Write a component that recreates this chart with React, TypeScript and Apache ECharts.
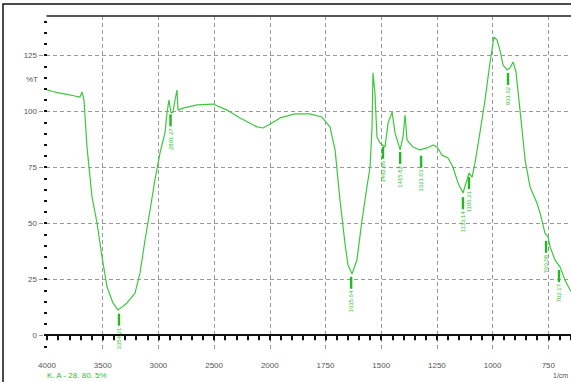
import React, { useEffect, useRef } from 'react';
import * as echarts from 'echarts';

// Spectrum (wavenumber in 1/cm, transmittance in %T)
const WAVENUMBERS = [
  4000, 3950, 3883, 3820, 3749, 3704, 3686, 3668, 3641, 3596, 3551, 3506, 3461, 3408, 3363,
  3282, 3210, 3165, 3120, 3075, 3031, 2986, 2941, 2923, 2905, 2887, 2869, 2851, 2833, 2824,
  2779, 2653, 2510, 2384, 2267, 2115, 2061, 1990, 1954, 1887, 1820, 1766, 1730, 1707, 1685,
  1662, 1649, 1631, 1609, 1586, 1564, 1550, 1541, 1537, 1528, 1519, 1505, 1483, 1469, 1451,
  1438, 1415, 1402, 1393, 1384, 1357, 1326, 1294, 1267, 1249, 1227, 1200, 1178, 1155, 1133,
  1115, 1106, 1092, 1079, 1057, 1034, 1012, 994, 980, 967, 953, 935, 922, 908, 895,
  877, 854, 832, 801, 787, 765, 751, 742, 720, 697, 675, 652, 640,
];
const TRANSMITTANCE = [
  109.5, 108.8, 108.1, 107.5, 106.8, 106.3, 108.6, 105, 84, 61.7, 50.1, 34.9, 21.5, 14.4, 11.2,
  14.4, 18.8, 27.8, 42.5, 55.9, 69.3, 81.3, 90.3, 99.2, 105, 99.2, 99.6, 105, 109.5, 100.5,
  101.4, 102.8, 103.2, 100.5, 97, 93, 92.5, 94.7, 97, 98.8, 98.8, 97.4, 93, 82.7, 60.4,
  40.5, 31.3, 27.3, 33.6, 51.4, 66.2, 75.1, 93, 117, 108.1, 88.5, 85.8, 84, 94.7, 99.6,
  90.3, 82.7, 88.5, 98.3, 87.1, 84, 82.7, 83.6, 84.9, 84, 80.4, 79.1, 75.1, 67.9, 63.5,
  69.3, 72.4, 70.6, 76.9, 90.3, 105, 121.5, 133.1, 131.8, 127.3, 120.6, 118.4, 119.3, 122, 117.5,
  100.5, 78.2, 66.2, 59, 54.6, 45.6, 43.8, 39.4, 33.6, 30.4, 24.6, 20.1, 19,
];

// Peak annotations
const PEAK_WAVENUMBERS = [3354, 2891, 1635, 1492, 1415, 1321, 1133, 1106, 931, 760, 702];
const PEAK_TRANSMITTANCE = [10.5, 99.5, 27, 85, 82.7, 81, 62.5, 71.5, 118, 43, 30];
const PEAK_LABELS = [
  '3354.21', '2891.27', '1635.64', '1492.95', '1415.82', '1321.03',
  '1133.14', '1106.21', '931.62', '760.08', '702.17',
];

// Axis ticks
const X_TICK_LABELS = ['4000', '3500', '3000', '2500', '2000', '1750', '1500', '1250', '1000', '750'];
const Y_TICKS = [0, 25, 50, 75, 100, 125];

const GREEN = '#3cc83c';

// Piecewise wavenumber scale (2x expansion below 2000 1/cm)
function toU(w: number): number {
  return w >= 2000 ? (4000 - w) / 500 : 4 + (2000 - w) / 250;
}

export default function App() {
  const ref = useRef<HTMLDivElement>(null);

  useEffect(() => {
    if (!ref.current) return;
    const chart = echarts.init(ref.current, undefined, { renderer: 'svg' });
    const font = 'Liberation Sans';

    const option: any = {
      animation: false,
      backgroundColor: '#ffffff',
      grid: [
        { left: 47, width: 557, top: 16, height: 336, outerBoundsMode: 'none', containLabel: false },
        { left: 39, right: 0, top: 55.2, bottom: 46.8, outerBoundsMode: 'none', containLabel: false },
        { left: 47, right: 0, top: 21.6, bottom: 35.6, outerBoundsMode: 'none', containLabel: false },
      ],
      xAxis: [
        {
          gridIndex: 0,
          type: 'value',
          min: 0,
          max: 10,
          interval: 1,
          position: 'bottom',
          axisLine: { show: true, lineStyle: { color: '#111', width: 2 } },
          axisTick: { show: true, length: 5, lineStyle: { color: '#111', width: 2 } },
          minorTick: { show: true, splitNumber: 5, length: 5, lineStyle: { color: '#111', width: 2 } },
          axisLabel: {
            margin: 9,
            fontSize: 8,
            color: '#555',
            fontFamily: font,
            formatter: (v: number) => {
              const i = Math.round(v);
              if (Math.abs(v - i) > 1e-6 || i < 0 || i >= X_TICK_LABELS.length) return '';
              return X_TICK_LABELS[i];
            },
          },
          splitLine: {
            show: true,
            showMinLine: false,
            lineStyle: { color: '#9a9a9a', width: 1, type: [4, 3] },
          },
        },
        {
          gridIndex: 0,
          type: 'value',
          min: 0,
          max: 10,
          position: 'top',
          axisLine: { show: true, lineStyle: { color: '#222', width: 1.5 } },
          axisTick: { show: false },
          axisLabel: { show: false },
          splitLine: { show: false },
        },
        { gridIndex: 1, type: 'value', min: 0, max: 1, show: false },
        { gridIndex: 2, type: 'value', min: 0, max: 1, show: false },
      ],
      yAxis: [
        { gridIndex: 0, type: 'value', min: -7.5, max: 142.5, show: false },
        {
          gridIndex: 1,
          type: 'value',
          min: Y_TICKS[0],
          max: Y_TICKS[Y_TICKS.length - 1],
          interval: 25,
          axisLine: { show: false },
          axisTick: { show: false },
          axisLabel: { margin: 2, fontSize: 8, color: '#555', fontFamily: font },
          splitLine: { show: true, lineStyle: { color: '#9a9a9a', width: 1, type: [4, 3] } },
        },
        {
          gridIndex: 2,
          type: 'value',
          min: -5,
          max: 140,
          interval: 5,
          axisLine: { show: false },
          axisTick: { show: true, length: 3, lineStyle: { color: '#111', width: 2 } },
          axisLabel: { show: false },
          splitLine: { show: false },
        },
      ],
      series: [
        {
          type: 'line',
          xAxisIndex: 0,
          yAxisIndex: 0,
          data: WAVENUMBERS.map((w, i) => [toU(w), TRANSMITTANCE[i]]),
          symbol: 'none',
          showSymbol: false,
          lineStyle: { color: GREEN, width: 1.2 },
          z: 3,
        },
        {
          type: 'custom',
          xAxisIndex: 0,
          yAxisIndex: 0,
          data: PEAK_WAVENUMBERS.map((w, i) => [toU(w), PEAK_TRANSMITTANCE[i], i]),
          renderItem: (params: any, api: any) => {
            const p = api.coord([api.value(0), api.value(1)]);
            const idx = api.value(2);
            return {
              type: 'group',
              children: [
                {
                  type: 'rect',
                  shape: { x: p[0] - 1.2, y: p[1] + 2, width: 2.4, height: 12 },
                  style: { fill: '#22b922' },
                },
                {
                  type: 'text',
                  x: p[0],
                  y: p[1] + 16,
                  rotation: Math.PI / 2,
                  style: {
                    text: PEAK_LABELS[idx],
                    fontSize: 6,
                    fontFamily: font,
                    fill: '#2fbf2f',
                    align: 'right',
                    verticalAlign: 'middle',
                    textAlign: 'right',
                    textVerticalAlign: 'middle',
                  },
                },
              ],
            };
          },
          z: 4,
        },
      ],
      graphic: [
        {
          type: 'rect',
          shape: { x: 3, y: 4, width: 600, height: 400 },
          style: { fill: 'none', stroke: '#111', lineWidth: 1.5 },
          silent: true,
        },
        {
          type: 'text',
          left: 26,
          top: 75,
          style: { text: '%T', fontSize: 8, fill: '#555', fontFamily: font },
        },
        {
          type: 'text',
          left: 47,
          top: 371,
          style: { text: 'K. A - 28. 80. 5%', fontSize: 8, fill: '#2fbf2f', fontFamily: font },
        },
        {
          type: 'text',
          left: 553,
          top: 372,
          style: { text: '1/cm', fontSize: 7, fill: '#555', fontFamily: font },
        },
      ],
    };

    chart.setOption(option);
    return () => {
      chart.dispose();
    };
  }, []);

  return (
    <div
      ref={ref}
      style={{ position: 'fixed', left: 0, top: 0, width: 571, height: 382, background: '#fff' }}
    />
  );
}
